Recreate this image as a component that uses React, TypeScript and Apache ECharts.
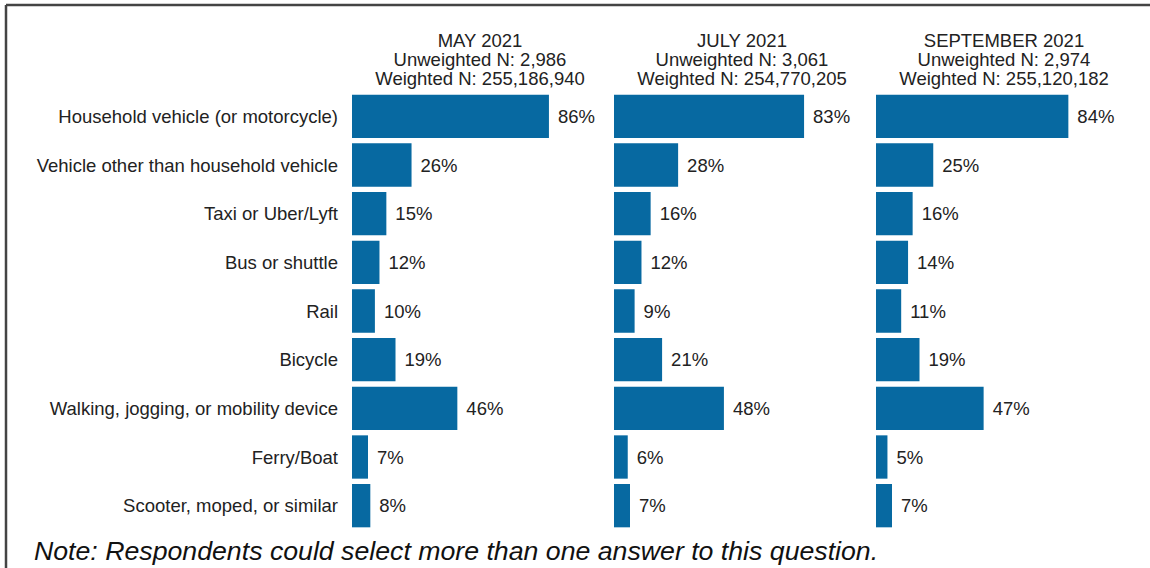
import React, { useEffect, useRef } from "react";
import * as echarts from "echarts";

const categories = [
  "Household vehicle (or motorcycle)",
  "Vehicle other than household vehicle",
  "Taxi or Uber/Lyft",
  "Bus or shuttle",
  "Rail",
  "Bicycle",
  "Walking, jogging, or mobility device",
  "Ferry/Boat",
  "Scooter, moped, or similar",
];

const may2021 = [86, 26, 15, 12, 10, 19, 46, 7, 8];
const july2021 = [83, 28, 16, 12, 9, 21, 48, 6, 7];
const sept2021 = [84, 25, 16, 14, 11, 19, 47, 5, 7];

const panelHeaders = [
  "MAY 2021\nUnweighted N: 2,986\nWeighted N: 255,186,940",
  "JULY 2021\nUnweighted N: 3,061\nWeighted N: 254,770,205",
  "SEPTEMBER 2021\nUnweighted N: 2,974\nWeighted N: 255,120,182",
];

const note = "Note: Respondents could select more than one answer to this question.";

const FONT = "'Liberation Sans', Arial, sans-serif";
const BAR = "#0769a1";
const TXT = "#222222";

export default function App() {
  const ref = useRef<HTMLDivElement>(null);

  useEffect(() => {
    if (!ref.current) return;
    const chart = echarts.init(ref.current, undefined, { renderer: "svg" });
    const lefts = [352, 614, 876];
    const seriesData = [may2021, july2021, sept2021];
    const option: any = {
      animation: false,
      backgroundColor: "#ffffff",
      title: [
        ...panelHeaders.map((h, i) => ({
          text: h,
          left: lefts[i] + 128,
          top: 31,
          padding: 0,
          textAlign: "center",
          textStyle: {
            fontFamily: FONT,
            fontSize: 18.5,
            fontWeight: "normal",
            color: TXT,
            lineHeight: 19,
          },
        })),
        {
          text: note,
          left: 34,
          top: 538,
          padding: 0,
          textStyle: {
            fontFamily: FONT,
            fontSize: 26.7,
            fontStyle: "italic",
            fontWeight: "normal",
            color: "#111111",
            lineHeight: 26,
          },
        },
      ],
      graphic: [
        {
          type: "line",
          shape: { x1: 6, y1: 5, x2: 1150, y2: 5 },
          style: { stroke: "#444444", lineWidth: 2.5 },
        },
        {
          type: "line",
          shape: { x1: 6, y1: 5, x2: 6, y2: 568 },
          style: { stroke: "#444444", lineWidth: 2.5 },
        },
      ],
      grid: lefts.map((l) => ({ left: l, width: 229, top: 92, height: 438 })),
      xAxis: lefts.map((_, i) => ({
        type: "value",
        gridIndex: i,
        min: 0,
        max: 100,
        show: false,
        splitLine: { show: false },
      })),
      yAxis: lefts.map((_, i) => ({
        type: "category",
        gridIndex: i,
        data: categories,
        inverse: true,
        axisLine: { show: false },
        axisTick: { show: false },
        splitLine: { show: false },
        axisLabel: {
          show: i === 0,
          margin: 14,
          fontFamily: FONT,
          fontSize: 18.5,
          color: TXT,
        },
      })),
      series: seriesData.map((d, i) => ({
        type: "bar",
        xAxisIndex: i,
        yAxisIndex: i,
        data: d,
        barCategoryGap: "11%",
        itemStyle: { color: BAR },
        label: {
          show: true,
          position: "right",
          distance: 9,
          formatter: "{c}%",
          fontFamily: FONT,
          fontSize: 18.5,
          color: TXT,
        },
      })),
    };
    chart.setOption(option);
    return () => chart.dispose();
  }, []);

  return (
    <div
      ref={ref}
      style={{ position: "fixed", left: 0, top: 0, width: 1150, height: 568, background: "#fff" }}
    />
  );
}
